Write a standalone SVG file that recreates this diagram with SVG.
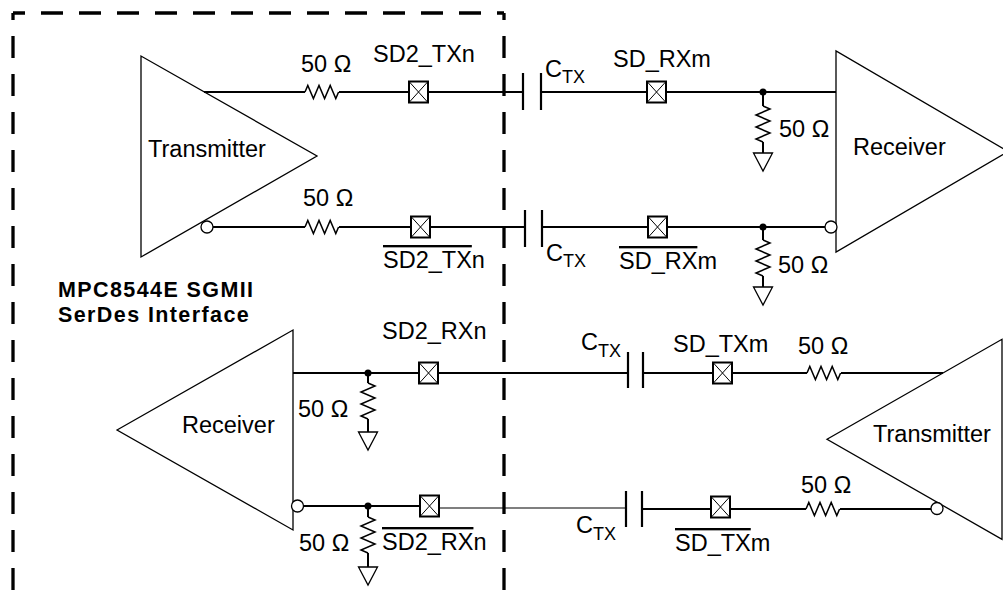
<svg xmlns="http://www.w3.org/2000/svg" xmlns:xlink="http://www.w3.org/1999/xlink" width="1003" height="604" viewBox="0 0 1003 604">
<style>
  .bg { fill: #ffffff; }
  .amp { fill: none; stroke: #000; stroke-width: 1.3; stroke-linejoin: miter; }
  .wire { fill: none; stroke: #000; stroke-width: 2; }
  .thinwire { fill: none; stroke: #000; stroke-width: 1.1; }
  .res { fill: none; stroke: #000; stroke-width: 1.5; stroke-linejoin: miter; }
  .cap { fill: none; stroke: #000; stroke-width: 2.2; }
  .pinbox { fill: #fff; stroke: #000; stroke-width: 2; }
  .pinx { fill: none; stroke: #000; stroke-width: 1; }
  .gnd { fill: #fff; stroke: #000; stroke-width: 1.3; }
  .bubble { fill: #fff; stroke: #000; stroke-width: 1.3; }
  .dot { fill: #000; }
  .dash { fill: none; stroke: #000; stroke-width: 3.3; stroke-dasharray: 22 16; }
  text { font-family: "Liberation Sans", Arial, Helvetica, sans-serif; font-size: 23.5px; fill: #000; }
  .bold { font-weight: bold; font-size: 21.5px; letter-spacing: 1.4px; }
  .sub { font-size: 18px; }
  .ov { text-decoration: overline; }
</style>
<defs>
  <g id="pin">
    <rect class="pinbox" x="-9.5" y="-10.5" width="19" height="21"/>
    <path class="pinx" d="M-9.5,-10.5 L9.5,10.5 M9.5,-10.5 L-9.5,10.5"/>
  </g>
  <path id="resH" class="res" d="M0,0 l2.8,-6.5 l5.6,13 l5.6,-13 l5.6,13 l5.6,-13 l5.6,13 l2.8,-6.5"/>
  <path id="resV" class="res" d="M0,0 l7,3 l-14,6 l14,6 l-14,6 l14,6 l-14,6 l7,3"/>
  <path id="gnd" class="gnd" d="M-9.5,0 H9.5 L0,18 Z"/>
</defs>
<rect class="bg" x="0" y="0" width="1003" height="604"/>

<g id="boundary">
  <path class="dash" d="M13,13 H504" stroke-dashoffset="10"/>
  <path class="dash" d="M13,13 V604" stroke-dashoffset="15"/>
  <path class="dash" d="M504,13 V604" stroke-dashoffset="15"/>
  <text class="bold" x="58" y="297">MPC8544E SGMII</text>
  <text class="bold" x="58" y="322">SerDes Interface</text>
</g>

<g id="connectors">
  <!-- top pair, positive -->
  <path class="wire" d="M204,92 H305 M339,92 H409 M428,92 H523 M541,92 H647 M666,92 H836"/>
  <path class="wire" d="M763,92 V106 M763,142 V153"/>
  <!-- top pair, negative -->
  <path class="wire" d="M213,227 H305 M339,227 H411 M430,227 H525 M542,227 H648 M667,227 H825"/>
  <path class="wire" d="M763,227 V240 M763,276 V287"/>
  <!-- bottom pair, positive -->
  <path class="wire" d="M293,373 H419 M438,373 H628 M643,373 H713 M732,373 H807 M841,373 H943"/>
  <path class="wire" d="M368,373 V383 M368,419 V432"/>
  <!-- bottom pair, negative -->
  <path class="wire" d="M303.5,506 H420"/>
  <path class="thinwire" d="M439,508 H626"/>
  <path class="wire" d="M642,509 H711 M730,509 H806 M840,509 H931"/>
  <path class="wire" d="M368,506 V517 M368,553 V567"/>
</g>

<g id="tx-mpc">
  <polygon class="amp" points="141,56 141,257 317,156"/>
  <circle class="bubble" cx="207" cy="227" r="6"/>
  <text x="148" y="157">Transmitter</text>
</g>

<g id="rx-link">
  <polygon class="amp" points="836,51 836,252 1008,151.5"/>
  <circle class="bubble" cx="831" cy="227" r="6"/>
  <text x="853" y="155">Receiver</text>
</g>

<g id="rx-mpc">
  <polygon class="amp" points="117,430 293,330 293,530"/>
  <circle class="bubble" cx="297.5" cy="506" r="6"/>
  <text x="182" y="433">Receiver</text>
</g>

<g id="tx-link">
  <polygon class="amp" points="827,439.3 1002,339.3 1002,539.3"/>
  <circle class="bubble" cx="937" cy="508.5" r="6"/>
  <text x="873" y="442">Transmitter</text>
</g>

<g id="r-tx-p">
  <use xlink:href="#resH" x="305" y="92"/>
  <text x="301" y="72">50 Ω</text>
</g>
<g id="r-tx-n">
  <use xlink:href="#resH" x="305" y="227"/>
  <text x="303" y="206">50 Ω</text>
</g>
<g id="pin-sd2-txp">
  <use xlink:href="#pin" x="418.5" y="92"/>
  <text x="373" y="62">SD2_TXn</text>
</g>
<g id="pin-sd2-txn">
  <use xlink:href="#pin" x="420.5" y="227"/>
  <text x="383" y="268"><tspan class="ov">SD2_TX</tspan>n</text>
</g>
<g id="c-top-p">
  <path class="cap" d="M523,73 V110 M541,73 V110"/>
  <text x="545" y="77">C<tspan class="sub" dy="6">TX</tspan></text>
</g>
<g id="c-top-n">
  <path class="cap" d="M525,210 V247 M542,210 V247"/>
  <text x="546" y="261">C<tspan class="sub" dy="6">TX</tspan></text>
</g>
<g id="pin-sd-rxp">
  <use xlink:href="#pin" x="656.5" y="92"/>
  <text x="613" y="67">SD_RXm</text>
</g>
<g id="pin-sd-rxn">
  <use xlink:href="#pin" x="657.5" y="227"/>
  <text x="619" y="269"><tspan class="ov">SD_RX</tspan>m</text>
</g>
<g id="r-rx-p">
  <circle class="dot" cx="763" cy="92" r="3.5"/>
  <use xlink:href="#resV" x="763" y="106"/>
  <use xlink:href="#gnd" x="763" y="153"/>
  <text x="779" y="137">50 Ω</text>
</g>
<g id="r-rx-n">
  <circle class="dot" cx="763" cy="227" r="3.5"/>
  <use xlink:href="#resV" x="763" y="240"/>
  <use xlink:href="#gnd" x="763" y="287"/>
  <text x="778" y="273">50 Ω</text>
</g>

<g id="r-mpcrx-p">
  <circle class="dot" cx="368" cy="373" r="3.5"/>
  <use xlink:href="#resV" x="368" y="383"/>
  <use xlink:href="#gnd" x="368" y="432"/>
  <text x="298" y="417">50 Ω</text>
</g>
<g id="r-mpcrx-n">
  <circle class="dot" cx="368" cy="506" r="3.5"/>
  <use xlink:href="#resV" x="368" y="517"/>
  <use xlink:href="#gnd" x="368" y="567"/>
  <text x="299" y="551">50 Ω</text>
</g>
<g id="pin-sd2-rxp">
  <use xlink:href="#pin" x="428.5" y="373"/>
  <text x="382" y="339">SD2_RXn</text>
</g>
<g id="pin-sd2-rxn">
  <use xlink:href="#pin" x="429.5" y="506"/>
  <text x="382" y="550"><tspan class="ov">SD2_RX</tspan>n</text>
</g>
<g id="c-bot-p">
  <path class="cap" d="M628,352 V388 M643,352 V388"/>
  <text x="581" y="350">C<tspan class="sub" dy="7">TX</tspan></text>
</g>
<g id="c-bot-n">
  <path class="cap" d="M626,491 V527 M642,491 V527"/>
  <text x="576" y="533">C<tspan class="sub" dy="7">TX</tspan></text>
</g>
<g id="pin-sd-txp">
  <use xlink:href="#pin" x="722.5" y="373"/>
  <text x="673" y="352">SD_TXm</text>
</g>
<g id="pin-sd-txn">
  <use xlink:href="#pin" x="720.5" y="507"/>
  <text x="675" y="551"><tspan class="ov">SD_TX</tspan>m</text>
</g>
<g id="r-linktx-p">
  <use xlink:href="#resH" x="807" y="373"/>
  <text x="798" y="354">50 Ω</text>
</g>
<g id="r-linktx-n">
  <use xlink:href="#resH" x="806" y="509"/>
  <text x="801" y="493">50 Ω</text>
</g>
</svg>
